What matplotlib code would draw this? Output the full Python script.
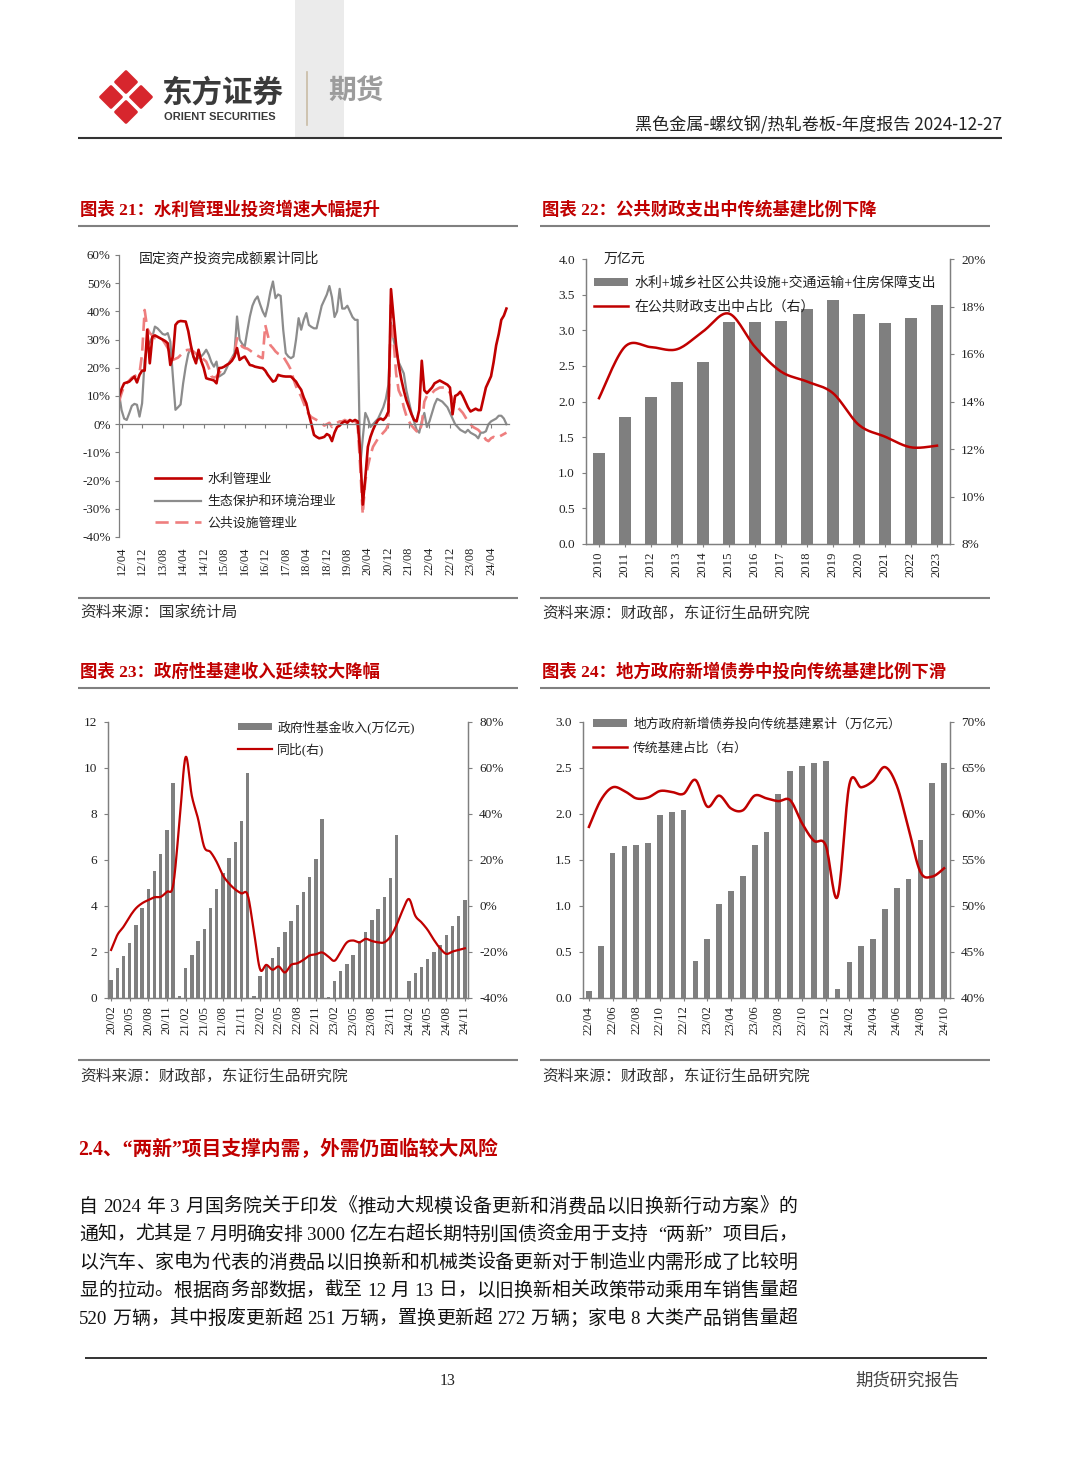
import re
import numpy as np
import matplotlib
matplotlib.use('Agg')
import matplotlib.pyplot as plt
from matplotlib.patches import Rectangle, Polygon
from matplotlib.lines import Line2D
from matplotlib.ticker import FuncFormatter

plt.rcParams['font.family'] = ['Liberation Serif', 'Noto Sans CJK SC']
plt.rcParams['axes.unicode_minus'] = False
plt.rcParams['text.color'] = '#222222'
plt.rcParams['xtick.color'] = '#7F7F7F'
plt.rcParams['ytick.color'] = '#7F7F7F'
plt.rcParams['xtick.labelcolor'] = '#222222'
plt.rcParams['ytick.labelcolor'] = '#222222'

# ---------------- data ----------------
# Chart 21: fixed-asset investment cumulative YoY (%), monthly 2012/03 .. 2024/10
c21_ticklabels = ['12/04', '12/12', '13/08', '14/04', '14/12', '15/08', '16/04', '16/12', '17/08',
                  '18/04', '18/12', '19/08', '20/04', '20/12', '21/08', '22/04', '22/12', '23/08', '24/04']
c21_water = [
    9.8, 12.5, 14.5, 14.8, 15.1, 16.0, 16.9, 14.8, 17.5, 19.0,
    19.0, 33.5, 21.6, 31.0, 31.5, 31.0, 30.5, 30.0, 29.5, 28.7, 21.0, 24.0,
    35.2, 36.3, 36.6, 36.5, 36.4, 33.0, 28.0, 24.0, 21.6, 26.4, 22.5, 20.0,
    16.3, 16.0, 15.8, 15.5, 14.5, 19.9, 20.0, 20.4, 21.0, 21.6, 22.5, 24.0,
    27.0, 22.8, 23.5, 24.0, 22.5, 21.0, 20.8, 20.4, 20.2, 20.0, 19.9, 19.0,
    17.5, 16.3, 15.1, 15.5, 17.5, 17.2, 17.0, 16.9, 16.9, 16.9, 16.0, 15.1,
    13.5, 12.2, 9.5, 7.4, 3.5, 0.0, -3.8, -4.5, -5.0, -4.8, -4.5, -3.5,
    -4.0, -6.0, -3.0, -1.0, -0.5, 0.5, 1.0, 0.5, 1.5, 1.0, 1.5, 1.0,
    -10.0, -28.5, -19.0, -8.0, -4.5, -2.0, 0.0, 1.5, 2.0, 1.5, 2.5, 4.5,
    47.9, 38.0, 28.0, 21.0, 16.0, 12.0, 8.5, 6.0, 3.5, 1.5, 1.0, 5.0,
    22.5, 12.0, 11.0, 12.0, 13.0, 14.5, 15.0, 15.5, 15.0, 14.5, 14.0, 13.0,
    3.5, 10.0, 10.5, 11.5, 10.0, 8.0, 6.0, 4.5, 5.0, 5.5, 5.0, 5.0,
    9.0, 13.0, 15.0, 17.0, 22.0, 28.0, 32.0, 37.0, 38.5, 41.0]
c21_eco = [
    11, 5, 2, 1.5, 3.9, 6.5, 7.2, 6.9, 2.7, 7.4,
    22.8, 27.5, 29, 31, 34.6, 34, 33, 32, 31.7, 32.3, 29.3, 16.9,
    5.1, 6, 7, 14.5, 20.4, 25, 27, 24, 22.8, 23.5, 24, 25,
    26.4, 24.6, 22, 20.4, 22.2, 16.9, 17.5, 18.1, 20, 22, 23.5, 25.2,
    38.2, 30, 28.5, 27.5, 33, 38.2, 42, 44.1, 45.3, 42.5, 40, 38.2,
    42, 47, 50.6, 44.7, 46, 45.5, 33.5, 25.2, 24, 23.4, 24, 30,
    37.6, 33.5, 37, 39.4, 35.2, 34.5, 34, 34, 38, 42, 44, 46,
    49, 45, 38, 40, 48, 41, 41, 42, 40, 38, 37, 37,
    -15, -5, 4, 2, -1, 0, 1, 2, 4, 6, 9, 14,
    36, 30, 26, 22, 20, 18, 12, 8, 4, 1, -2, -3,
    1, 4, -1, 1, 4, 7, 9, 8.5, 8, 7, 6, 4,
    2, 0, -1, -2, -2.5, -3, -2, -3, -3.5, -4, -5, -3,
    -3, -2.5, 0, 1, 1.5, 2, 3, 3, 2, 0]
c21_public = [
    8, 11, 13.5, 14.5, 15.5, 16.5, 17, 17.5, 18.1, 25,
    40.5, 34, 32.3, 31.5, 30.5, 30.3, 30, 29.9, 28.5, 27, 25, 22.8,
    23.2, 23.6, 24.5, 25.5, 26.2, 26.4, 26, 25.8, 25, 24, 23.5, 23,
    22.2, 20, 17, 16.5, 16.9, 18, 19.5, 20.5, 21, 21.6, 23, 25,
    30.5, 29, 27.5, 27, 26.8, 26.2, 25.5, 24.8, 24.3, 23.8, 23.4, 35.2,
    31.5, 28, 27, 25.8, 25, 24.5, 24, 22.5, 21, 19.3, 16, 13.4,
    11.5, 9.8, 7.5, 5.1, 3.5, 2.5, 2, 1.5, 1, 0.5, -0.5, 0,
    0.5, -1, 0, 0.5, 1, 1, 1.5, 1, 1.5, 1, 1, 0,
    -15, -32, -20, -15, -11, -8, -6.5, -5, -4, -3, -2, 0,
    43.5, 30, 18, 12, 10, 6, 3, 1, -0.5, -1.5, -2.5, -3,
    0, 8, 10, 10.5, 11, 12, 12.5, 13, 13, 13, 12.5, 11,
    9, 7, 6, 5, 4, 2.5, 1, 0, -1, -1.5, -2, -3,
    -4, -5.5, -6, -5, -4.5, -5, -4.5, -4, -3.5, -3]
c21_names = ['水利管理业', '生态保护和环境治理业', '公共设施管理业']

# Chart 22
c22_years = ['2010', '2011', '2012', '2013', '2014', '2015', '2016', '2017', '2018', '2019',
             '2020', '2021', '2022', '2023']
c22_spend = [1.28, 1.78, 2.06, 2.28, 2.56, 3.11, 3.12, 3.13, 3.30, 3.43, 3.23, 3.10, 3.17, 3.35]
c22_share = [14.14, 16.31, 16.29, 16.2, 16.95, 17.7, 16.3, 15.26, 14.84, 14.35, 13.01, 12.52, 12.07, 12.14]
c22_names = ['水利+城乡社区公共设施+交通运输+住房保障支出', '在公共财政支出中占比（右）']

# Chart 23: monthly 2020/02 .. 2024/11
c23_ticklabels = ['20/02', '20/05', '20/08', '20/11', '21/02', '21/05', '21/08', '21/11', '22/02', '22/05',
                  '22/08', '22/11', '23/02', '23/05', '23/08', '23/11', '24/02', '24/05', '24/08', '24/11']
c23_revenue = [
    0.77, 1.30, 1.81, 2.38, 3.18, 3.90, 4.73, 5.53, 6.26, 7.30, 9.35,
    0.10, 1.30, 1.88, 2.46, 3.01, 3.93, 4.73, 5.42, 6.10, 6.79, 7.70, 9.80,
    0.10, 0.97, 1.40, 1.76, 2.21, 2.85, 3.35, 4.05, 4.60, 5.25, 6.04, 7.80,
    0.05, 0.74, 1.16, 1.47, 1.88, 2.46, 2.89, 3.40, 3.87, 4.38, 5.20, 7.08,
    0.0, 0.72, 1.08, 1.34, 1.69, 1.98, 2.31, 2.72, 3.14, 3.58, 4.26]
c23_yoy = [
    -19.1, -12.6, -9.0, -4.6, -1.0, 1.2, 2.6, 3.8, 4.0, 6.2, 9.1,
    36.0, 64.7, 48.0, 38.0, 25.7, 23.5, 19.2, 13.4, 9.8, 7.2, 5.5, 4.8,
    -11.0, -27.5, -25.6, -27.7, -26.3, -28.9, -25.6, -24.9, -23.4, -21.5, -21.0, -20.2,
    -22.0, -23.8, -19.8, -15.8, -15.0, -15.8, -14.3, -15.2, -15.8, -15.8, -13.3, -8.2,
    -1.7, 3.0, -4.2, -7.1, -10.4, -14.7, -18.4, -20.8, -19.8, -19.1, -18.4]
c23_names = ['政府性基金收入(万亿元)', '同比(右)']

# Chart 24: monthly 2022/04 .. 2024/10
c24_ticklabels = ['22/04', '22/06', '22/08', '22/10', '22/12', '23/02', '23/04', '23/06', '23/08',
                  '23/10', '23/12', '24/02', '24/04', '24/06', '24/08', '24/10']
c24_bonds = [0.08, 0.56, 1.58, 1.65, 1.66, 1.69, 1.99, 2.02, 2.04,
             0.40, 0.64, 1.02, 1.16, 1.33, 1.66, 1.80, 2.22, 2.47, 2.52, 2.55, 2.58,
             0.10, 0.39, 0.56, 0.64, 0.97, 1.20, 1.29, 1.72, 2.34, 2.55]
c24_share = [58.6, 61.5, 62.9, 62.5, 61.7, 61.8, 62.5, 62.4, 62.2,
             63.7, 60.8, 62.0, 60.6, 60.4, 62.0, 61.7, 61.4, 61.5, 59.0, 57.1, 56.6,
             51.0, 63.2, 62.9, 63.6, 65.1, 63.1, 58.4, 53.7, 53.2, 54.1]
c24_names = ['地方政府新增债券投向传统基建累计（万亿元）', '传统基建占比（右）']

body_lines = [
    '自 2024 年 3 月国务院关于印发《推动大规模设备更新和消费品以旧换新行动方案》的',
    '通知，尤其是 7 月明确安排 3000 亿左右超长期特别国债资金用于支持“两新”项目后，',
    '以汽车、家电为代表的消费品以旧换新和机械类设备更新对于制造业内需形成了比较明',
    '显的拉动。根据商务部数据，截至 12 月 13 日，以旧换新相关政策带动乘用车销售量超',
    '520 万辆，其中报废更新超 251 万辆，置换更新超 272 万辆；家电 8 大类产品销售量超',
]

# ---------------- style ----------------
W, H = 1080, 1466
RED = '#C00000'
PINK = '#EE7E7E'
GRAYL = '#8C8C8C'
BAR = '#7F7F7F'
AX = '#7F7F7F'
TXT = '#222222'

fig = plt.figure(figsize=(W / 100, H / 100), dpi=100)
page = fig.add_axes([0, 0, 1, 1])
page.set_xlim(0, W)
page.set_ylim(H, 0)
page.axis('off')
renderer = fig.canvas.get_renderer()


def hline(x0, x1, y, color, lw):
    page.add_line(Line2D([x0, x1], [y, y], color=color, lw=lw, solid_capstyle='butt'))


def axes_px(left, top, right, bottom):
    return fig.add_axes([left / W, 1 - bottom / H, (right - left) / W, (bottom - top) / H])


def smooth(x, y, n=16):
    P = np.column_stack([np.asarray(x, float), np.asarray(y, float)])
    out = []
    for i in range(len(P) - 1):
        p0 = P[max(i - 1, 0)]
        p1 = P[i]
        p2 = P[i + 1]
        p3 = P[min(i + 2, len(P) - 1)]
        t = np.linspace(0, 1, n, endpoint=False)[:, None]
        seg = 0.5 * (2 * p1 + (-p0 + p2) * t + (2 * p0 - 5 * p1 + 4 * p2 - p3) * t ** 2
                     + (-p0 + 3 * p1 - 3 * p2 + p3) * t ** 3)
        out.append(seg)
    out.append(P[-1:])
    out = np.vstack(out)
    return out[:, 0], out[:, 1]


# ---------------- header ----------------
page.add_patch(Rectangle((295, 0), 49, 137, facecolor='#EBEBEB', edgecolor='none'))
lcx, lcy, lr, ls = 126, 97, 15, 10.5
for dx, dy in [(0, -1), (0, 1), (-1, 0), (1, 0)]:
    cx, cy = lcx + dx * lr, lcy + dy * lr
    pts = [(cx, cy - ls), (cx + ls, cy), (cx, cy + ls), (cx - ls, cy)]
    page.add_patch(Polygon(pts, closed=True, facecolor='#D7262D', edgecolor='#D7262D',
                           lw=2, joinstyle='round'))
page.text(161, 93, '东方证券', fontsize=22, fontweight='bold', color='#3A3A3A',
          family=['Noto Sans CJK SC'], va='center', ha='left')
page.text(164, 117, 'ORIENT SECURITIES', fontsize=8, fontweight='bold', color='#3A3A3A',
          family=['Liberation Sans'], va='center', ha='left')
page.add_line(Line2D([307, 307], [72, 125], color='#C9BCA5', lw=1.2))
page.text(328, 92, '期货', fontsize=20, fontweight='bold', color='#9C9C9C',
          family=['Noto Sans CJK SC'], va='center', ha='left')
page.text(1002, 125, '黑色金属-螺纹钢/热轧卷板-年度报告 2024-12-27', fontsize=12.3,
          family=['Noto Sans CJK SC'], color='#222222', va='center', ha='right')
hline(78, 1002, 137.5, '#333333', 1.5)

# ---------------- panel frames ----------------
panel_titles = [
    (80, 210, '图表 21：水利管理业投资增速大幅提升'),
    (542, 210, '图表 22：公共财政支出中传统基建比例下降'),
    (80, 672, '图表 23：政府性基建收入延续较大降幅'),
    (542, 672, '图表 24：地方政府新增债券中投向传统基建比例下滑'),
]
for x, y, t in panel_titles:
    page.text(x, y, t, fontsize=12.5, fontweight='bold', color=RED, va='center', ha='left')
for y in (226, 598, 688, 1060):
    hline(78, 518, y, '#808080', 1.5)
    hline(540, 990, y, '#808080', 1.5)
sources = [
    (80, 613, '资料来源：国家统计局'),
    (542, 613, '资料来源：财政部，东证衍生品研究院'),
    (80, 1076, '资料来源：财政部，东证衍生品研究院'),
    (542, 1076, '资料来源：财政部，东证衍生品研究院'),
]
for x, y, t in sources:
    page.text(x, y, t, fontsize=11.3, color='#333333', va='center', ha='left')


def style_axis(ax, left=True, right=False):
    ax.spines['top'].set_visible(False)
    for s in ['left', 'right', 'bottom']:
        ax.spines[s].set_color(AX)
        ax.spines[s].set_linewidth(0.9)
    ax.spines['right'].set_visible(right)
    ax.spines['left'].set_visible(left)
    ax.set_facecolor('none')


# ---------------- chart 21 ----------------
ax1 = axes_px(119, 255, 509, 537)
m = np.arange(len(c21_water))
l_eco, = ax1.plot(m, c21_eco, color=GRAYL, lw=1.6)
l_pub, = ax1.plot(m, c21_public, color=PINK, lw=1.9, dashes=(5, 2.5))
l_wat, = ax1.plot(m, c21_water, color=RED, lw=1.9)
ax1.set_xlim(0, 152)
ax1.set_ylim(-40, 60)
ax1.set_yticks(np.arange(-40, 61, 10))
ax1.yaxis.set_major_formatter(FuncFormatter(lambda v, p: f'{v:.0f}%'))
style_axis(ax1)
ax1.spines['bottom'].set_position(('data', 0))
tick_pos21 = list(range(1, len(c21_water), 8))[:len(c21_ticklabels)]
ax1.set_xticks(tick_pos21)
ax1.tick_params(axis='x', labelbottom=False, length=3, width=0.8)
ax1.tick_params(axis='y', labelsize=9.4, length=3, width=0.8, pad=3)
sec = ax1.secondary_xaxis('bottom')
sec.set_xticks(tick_pos21, c21_ticklabels, rotation=90)
sec.tick_params(length=0, labelsize=8.9, pad=7)
sec.spines['bottom'].set_visible(False)
page.text(139, 259, '固定资产投资完成额累计同比', fontsize=10, color=TXT, va='center', ha='left')
ax1.legend([l_wat, l_eco, l_pub], c21_names, loc='upper left', bbox_to_anchor=(0.092, 0.224),
           frameon=False, fontsize=9.3, handlelength=3.6, handletextpad=0.45,
           labelspacing=0.75, borderpad=0, borderaxespad=0)


def bar_line(rect, cats, bars, line, bw, ylim_l, yt_l, fmt_l, ylim_r, yt_r, fmt_r,
             ticks, ticklabels, names, leg_xy, leg_fs, handlelen, labsp, lw):
    ax = axes_px(*rect)
    x = np.arange(len(cats))
    bc = ax.bar(x, bars, width=bw, color=BAR, zorder=2)
    ax.set_xlim(-0.5, len(cats) - 0.5)
    ax.set_ylim(*ylim_l)
    ax.set_yticks(yt_l)
    ax.yaxis.set_major_formatter(FuncFormatter(fmt_l))
    ax.set_xticks(ticks, ticklabels, rotation=90)
    ax.tick_params(axis='x', labelsize=9.2, length=2.5, width=0.8, pad=3)
    ax.tick_params(axis='y', labelsize=9.5, length=3, width=0.8, pad=5)
    style_axis(ax, left=True, right=True)
    tw = ax.twinx()
    sx, sy = smooth(x, line)
    ln, = tw.plot(sx, sy, color=RED, lw=lw, zorder=3)
    tw.set_ylim(*ylim_r)
    tw.set_yticks(yt_r)
    tw.yaxis.set_major_formatter(FuncFormatter(fmt_r))
    tw.tick_params(axis='y', labelsize=9.5, length=3, width=0.8, pad=5)
    style_axis(tw, left=True, right=True)
    tw.legend([bc, ln], names, loc='upper left', bbox_to_anchor=leg_xy, frameon=False,
              fontsize=leg_fs, handlelength=handlelen, handleheight=0.55, handletextpad=0.45,
              labelspacing=labsp, borderpad=0, borderaxespad=0)
    return ax, tw


# ---------------- chart 22 ----------------
bar_line((586, 259, 950, 544), c22_years, c22_spend, c22_share, 0.45,
         (0, 4), np.arange(0, 4.01, 0.5), lambda v, p: f'{v:.1f}',
         (8, 20), np.arange(8, 20.1, 2), lambda v, p: f'{v:.0f}%',
         list(range(len(c22_years))), c22_years, c22_names, (0.022, 0.940), 10, 2.45, 0.7, 1.8)
page.text(604, 259, '万亿元', fontsize=10, color=TXT, va='center', ha='left')

# ---------------- chart 23 ----------------
bar_line((108, 722, 468, 998), c23_revenue, c23_revenue, c23_yoy, 0.55,
         (0, 12), np.arange(0, 12.1, 2), lambda v, p: f'{v:.0f}',
         (-40, 80), np.arange(-40, 80.1, 20), lambda v, p: f'{v:.0f}%',
         list(range(0, len(c23_revenue), 3)), c23_ticklabels, c23_names, (0.361, 1.007), 9.3, 2.6,
         0.68, 1.6)

# ---------------- chart 24 ----------------
bar_line((583, 722, 950, 998), c24_bonds, c24_bonds, c24_share, 0.48,
         (0, 3), np.arange(0, 3.01, 0.5), lambda v, p: f'{v:.1f}',
         (40, 70), np.arange(40, 70.1, 5), lambda v, p: f'{v:.0f}%',
         list(range(0, len(c24_bonds), 2)), c24_ticklabels, c24_names, (0.027, 1.0145), 9.2, 2.7,
         0.92, 1.8)

# ---------------- section text ----------------
page.text(78, 1150, '2.4、“两新”项目支撑内需，外需仍面临较大风险', fontsize=14.2,
          fontweight='bold', color=RED, va='center', ha='left')


def justify(text, x0, x1, y, fs, color):
    fs_px = fs * 100 / 72
    toks = re.findall(r'[0-9A-Za-z.]+|\s|.', text)
    objs, widths = [], []
    for t in toks:
        if t.isspace():
            objs.append(None)
            widths.append(0.25 * fs_px)
            continue
        o = page.text(0, y, t, fontsize=fs, color=color, va='center', ha='left')
        objs.append(o)
        if ord(t[0]) > 0x2000:
            widths.append(fs_px)
        else:
            widths.append(o.get_window_extent(renderer).width)
    gap = (x1 - x0 - sum(widths)) / max(len(toks) - 1, 1)
    x = x0
    for o, w in zip(objs, widths):
        if o is not None:
            s = o.get_text()
            if s == '“':
                o.set_ha('right')
                o.set_x(x + w + gap * 0.5)
            elif s == '”':
                o.set_ha('left')
                o.set_x(x - gap * 0.5)
            else:
                o.set_x(x)
        x += w + gap


for i, line in enumerate(body_lines):
    justify(line, 79, 797, 1207 + 28 * i, 13.6, '#111111')

# ---------------- footer ----------------
hline(85, 987, 1358, '#333333', 1.4)
page.text(448, 1381, '13', fontsize=11.5, color='#222222', va='center', ha='center')
page.text(960, 1381, '期货研究报告', fontsize=12.5, color='#444444', va='center', ha='right')

fig.savefig('out.png', dpi=100)
